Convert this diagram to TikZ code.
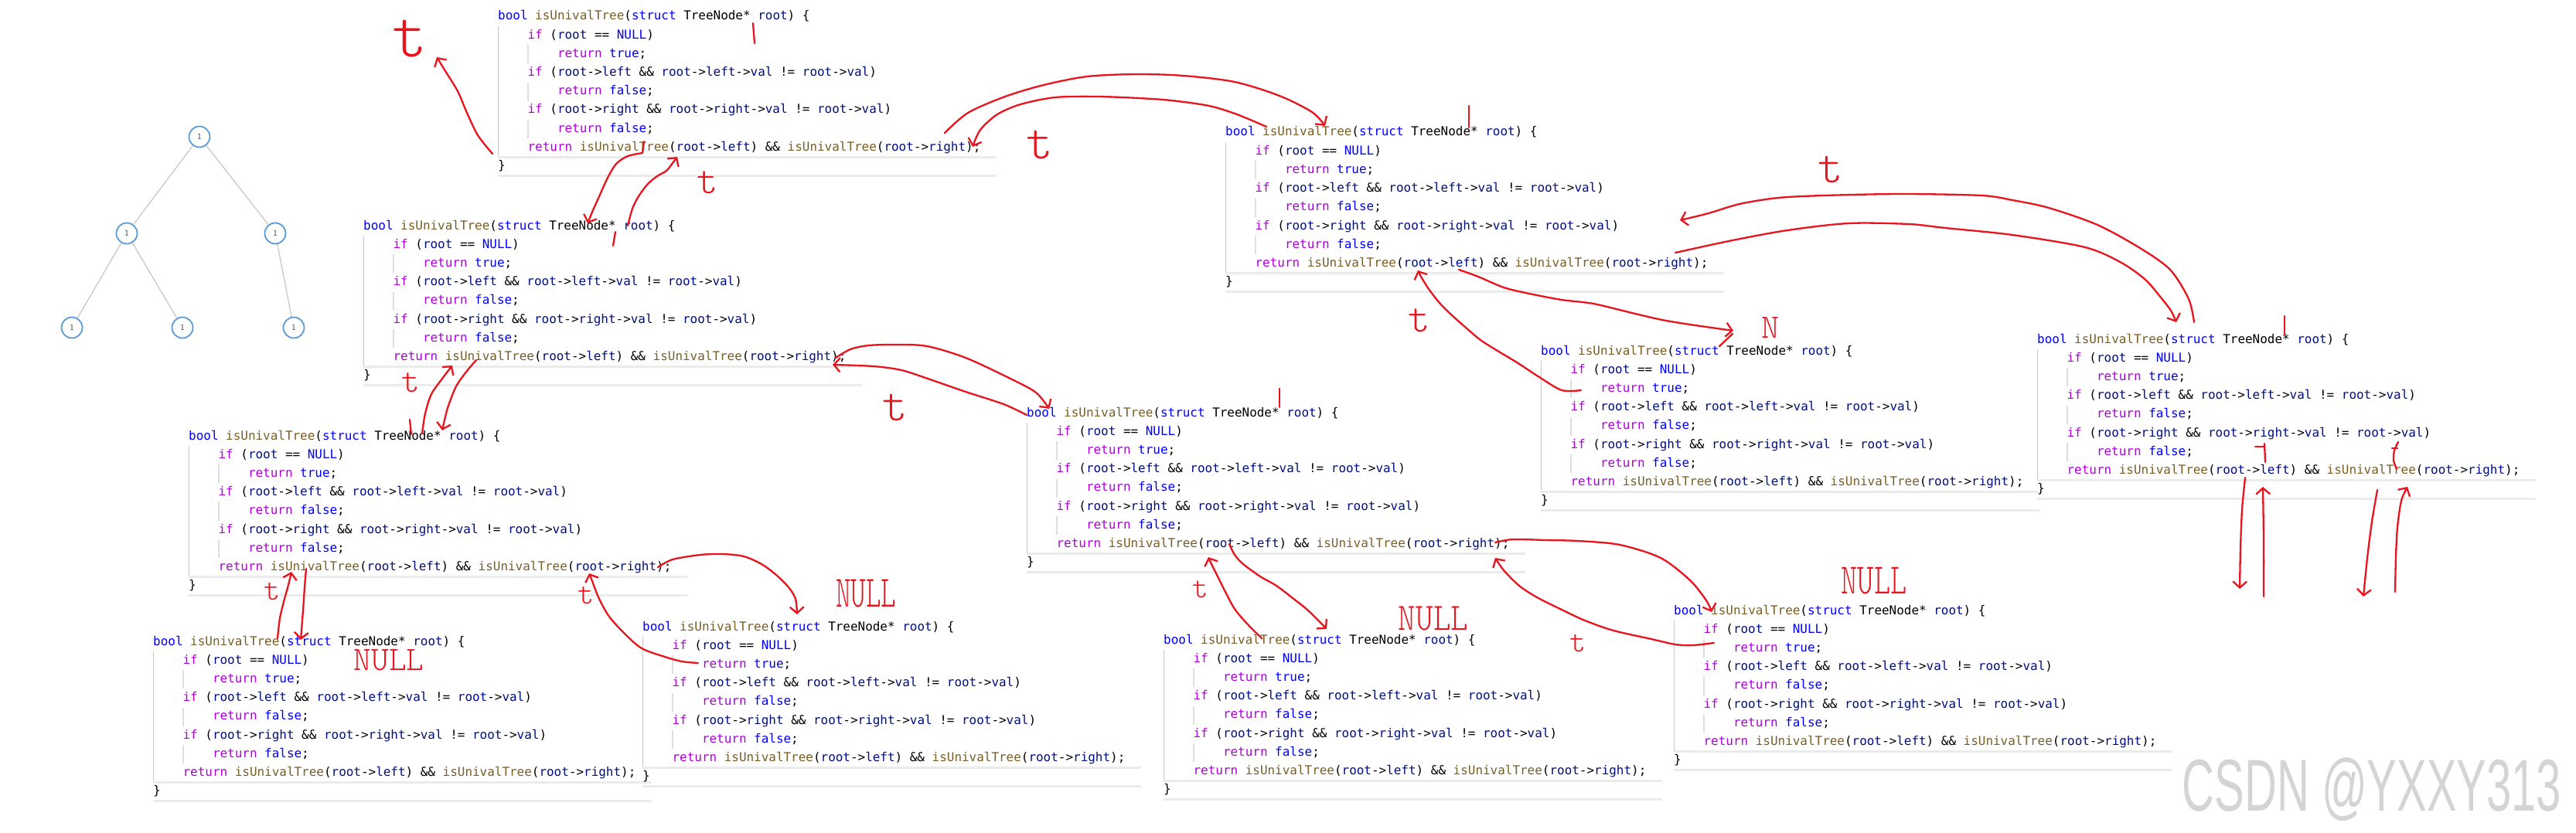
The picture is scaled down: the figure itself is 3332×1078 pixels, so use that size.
\documentclass[tikz,border=0pt]{standalone}
\usepackage{fontspec}
\usetikzlibrary{arrows.meta}
\newfontfamily\codefont{DejaVu Sans Mono}
\newfontfamily\handfont{lmmonolt10-regular.otf}
\newfontfamily\wmfont{Liberation Sans}
\definecolor{kwblue}{HTML}{0000FF}
\definecolor{ctrlpurple}{HTML}{AF00DB}
\definecolor{fnbrown}{HTML}{795E26}
\definecolor{varblue}{HTML}{001080}
\definecolor{penred}{HTML}{E8141E}
\definecolor{nodeblue}{HTML}{5B9BD5}
\newcommand{\cKw}[1]{\textcolor{kwblue}{#1}}
\newcommand{\cCt}[1]{\textcolor{ctrlpurple}{#1}}
\newcommand{\cFn}[1]{\textcolor{fnbrown}{#1}}
\newcommand{\cVr}[1]{\textcolor{varblue}{#1}}
\newcommand{\hs}[1]{\handfont\fontsize{#1}{#1}\selectfont}
\tikzset{
 codeline/.style={anchor=west, inner sep=0pt, text height=12pt, text depth=4pt, font=\codefont\fontsize{15.95}{20}\selectfont},
 guide/.style={draw=black!22, line width=1.2pt},
 subguide/.style={draw=black!13, line width=1.2pt},
 hlline/.style={draw=black!8, line width=3pt},
 pen/.style={draw=penred, line width=2.3pt, line cap=round, line join=round},
 penarrow/.style={pen, -{Straight Barb[length=8pt,width=18pt]}},
 handtxt/.style={text=penred, inner sep=0pt},
 tnode/.style={circle, draw=nodeblue, line width=1.8pt, minimum size=27pt, inner sep=0pt, font=\sffamily\fontsize{11}{11}\selectfont, text=black!75},
 tedge/.style={draw=black!20, line width=1.4pt}
}
\newcommand{\codeblock}[3]{%
\begin{scope}[shift={(#2,#3)}]
 \draw[guide] (0.5,12) -- (0.5,181.4);
 \foreach \k in {2,4,6} \draw[subguide] (38.9,{\k*24.2-12}) -- (38.9,{\k*24.2+12});
 \draw[hlline] (0,181.4) -- (645,181.4);
 \draw[hlline] (0,205.6) -- (645,205.6);
 \node[codeline] (#1-0) at (0,0) {\cKw{bool} \cFn{isUnivalTree}(\cKw{struct} TreeNode* \cVr{root}) \{};
 \node[codeline] (#1-1) at (38.4,24.2) {\cCt{if} (\cVr{root} == \cKw{NULL})};
 \node[codeline] (#1-2) at (76.8,48.4) {\cCt{return} \cKw{true};};
 \node[codeline] (#1-3) at (38.4,72.6) {\cCt{if} (\cVr{root}->\cVr{left} \&\& \cVr{root}->\cVr{left}->\cVr{val} != \cVr{root}->\cVr{val})};
 \node[codeline] (#1-4) at (76.8,96.8) {\cCt{return} \cKw{false};};
 \node[codeline] (#1-5) at (38.4,121) {\cCt{if} (\cVr{root}->\cVr{right} \&\& \cVr{root}->\cVr{right}->\cVr{val} != \cVr{root}->\cVr{val})};
 \node[codeline] (#1-6) at (76.8,145.2) {\cCt{return} \cKw{false};};
 \node[codeline] (#1-7) at (38.4,169.4) {\cCt{return} \cFn{isUnivalTree}(\cVr{root}->\cVr{left}) \&\& \cFn{isUnivalTree}(\cVr{root}->\cVr{right});};
 \node[codeline] (#1-8) at (0,193.6) {\}};
\end{scope}}
\begin{document}
\begin{tikzpicture}[x=1pt,y=-1pt]
\useasboundingbox (0,0) rectangle (3332,1078);
\fill[white] (0,0) rectangle (3332,1078);

% tree
\node[tnode] (n1) at (258,177) {1};
\node[tnode] (n2) at (164,302) {1};
\node[tnode] (n3) at (356,302) {1};
\node[tnode] (n4) at (93,424) {1};
\node[tnode] (n5) at (236,424) {1};
\node[tnode] (n6) at (380,424) {1};
\draw[tedge] (n1) -- (n2);
\draw[tedge] (n1) -- (n3);
\draw[tedge] (n2) -- (n4);
\draw[tedge] (n2) -- (n5);
\draw[tedge] (n3) -- (n6);

% code blocks
\codeblock{A}{644}{22}
\codeblock{B}{1585}{172}
\codeblock{C}{470}{293}
\codeblock{D}{1993}{455}
\codeblock{E}{2635}{440}
\codeblock{F}{244}{565}
\codeblock{G}{1328}{535}
\codeblock{H}{198}{831}
\codeblock{I}{831}{812}
\codeblock{J}{1505}{829}
\codeblock{K}{2165}{791}

% red annotations: ticks
\draw[pen] (974,30) -- (976,56);
\draw[pen] (1900,137) -- (1900,165);
\draw[pen] (796,300) -- (793,318);
\draw[pen] (530,543) -- (532,562);
\draw[pen] (1655,503) -- (1655,527);
\draw[pen] (2955,409) -- (2955,433);

% arrows
\draw[penarrow] plot[smooth] coordinates {(637,199) (618,175) (604,146) (592,118) (576,92) (565,74)};
\draw[penarrow] plot[smooth] coordinates {(1222,172) (1252,146) (1300,125) (1350,110) (1406,99) (1470,96) (1531,98) (1597,106) (1655,124) (1697,145) (1714,163)};
\draw[penarrow] plot[smooth] coordinates {(1638,164) (1600,148) (1564,137) (1515,130) (1473,127) (1420,125) (1365,126) (1320,135) (1290,148) (1268,168) (1258,190)};
\draw[pen] (833,183) -- (831,198);
\draw[penarrow] plot[smooth] coordinates {(831,198) (812,202) (797,212) (786,230) (776,252) (767,272) (760,289)};
\draw[penarrow] plot[smooth] coordinates {(812,292) (818,270) (826,254) (838,238) (850,228) (862,221) (870,211) (876,203)};
\draw[penarrow] plot[smooth] coordinates {(1081,463) (1100,452) (1124,447) (1160,446) (1199,448) (1249,463) (1307,490) (1340,508) (1357,529)};
\draw[penarrow] plot[smooth] coordinates {(1328,537) (1298,523) (1249,507) (1200,490) (1166,479) (1130,474) (1077,472)};
\draw[penarrow] plot[smooth] coordinates {(616,466) (604,480) (590,500) (579,528) (572,557)};
\draw[penarrow] plot[smooth] coordinates {(546,561) (550,535) (558,510) (572,490) (585,473)};
\draw[penarrow] plot[smooth] coordinates {(396,736) (394,760) (392,790) (389,828)};
\draw[penarrow] plot[smooth] coordinates {(359,826) (362,800) (368,775) (373,757) (377,740)};
\draw[penarrow] plot[smooth] coordinates {(851,734) (870,724) (906,718) (935,717) (962,720) (985,730) (1004,744) (1020,760) (1029,775) (1031,795)};
\draw[penarrow] plot[smooth] coordinates {(903,858) (882,856) (860,850) (830,839) (808,820) (788,798) (775,775) (766,752) (762,742)};
\draw[penarrow] plot[smooth] coordinates {(1590,704) (1597,718) (1608,730) (1630,746) (1651,758) (1672,774) (1692,790) (1716,814)};
\draw[penarrow] plot[smooth] coordinates {(1632,826) (1612,806) (1597,788) (1586,768) (1576,748) (1567,730) (1563,721)};
\draw[penarrow] plot[smooth] coordinates {(1934,702) (1957,698) (2000,699) (2041,700) (2095,705) (2148,722) (2186,751) (2207,777) (2214,792)};
\draw[penarrow] plot[smooth] coordinates {(2217,832) (2190,835) (2167,834) (2136,827) (2087,816) (2050,803) (2018,788) (1988,773) (1965,758) (1945,738) (1934,722)};
\draw[penarrow] plot[smooth] coordinates {(1887,349) (1912,358) (1945,372) (1978,380) (2020,388) (2061,393) (2111,405) (2150,414) (2186,420) (2242,428)};
\draw[pen] (2241,432) -- (2224,448);
\draw[penarrow] plot[smooth] coordinates {(2045,505) (2020,505) (1991,488) (1962,469) (1937,454) (1915,440) (1896,424) (1878,408) (1862,392) (1848,374) (1838,358) (1834,350)};
\draw[penarrow] plot[smooth] coordinates {(2838,417) (2831,387) (2807,349) (2768,321) (2713,291) (2650,269) (2603,259) (2563,253) (2460,251) (2359,253) (2300,256) (2250,264) (2210,276) (2173,285)};
\draw[penarrow] plot[smooth] coordinates {(2167,327) (2241,311) (2312,298) (2391,289) (2469,290) (2516,295) (2603,304) (2697,320) (2744,340) (2775,362) (2795,385) (2808,402) (2815,417)};
\draw[penarrow] plot[smooth] coordinates {(2904,618) (2900,660) (2898,710) (2897,762)};
\draw[penarrow] plot[smooth] coordinates {(2928,772) (2928,700) (2927,630)};
\draw[penarrow] plot[smooth] coordinates {(3075,634) (3068,675) (3062,722) (3057,772)};
\draw[penarrow] plot[smooth] coordinates {(3098,766) (3099,720) (3101,682) (3106,648) (3114,630)};
\draw[pen] (2917,578) -- (2929,578);
\draw[pen] (2929,574) -- (2930,598);
\draw[pen] (3094,580) -- (3101,580);
\draw[pen] plot[smooth] coordinates {(3102,572) (3097,583) (3096,596) (3100,607)};

% red handwritten letters
\node[handtxt, font=\hs{86}] (t1) at (530,50) {t};
\node[handtxt, font=\hs{66}] (t2) at (1345,187) {t};
\node[handtxt, font=\hs{52}] (t3) at (915,236) {t};
\node[handtxt, font=\hs{45}] (t4) at (531,495) {t};
\node[handtxt, font=\hs{62}] (t5) at (1158,528) {t};
\node[handtxt, font=\hs{40}] (t6) at (352,766) {t};
\node[handtxt, font=\hs{40}] (t7) at (758,771) {t};
\node[handtxt, font=\hs{54}] (t8) at (1836,415) {t};
\node[handtxt, font=\hs{62}] (t9) at (2368,220) {t};
\node[handtxt, font=\hs{39}] (t10) at (1553,763) {t};
\node[handtxt, font=\hs{40}] (t11) at (2041,833) {t};
\node[handtxt, font=\hs{44}] (nn) at (2290,424) {N};
\node[handtxt, font=\hs{44}, xscale=0.98] (null1) at (503,854) {NULL};
\node[handtxt, font=\hs{58}, xscale=0.64] (null2) at (1120,768) {NULL};
\node[handtxt, font=\hs{50}, xscale=0.86] (null3) at (1854,800) {NULL};
\node[handtxt, font=\hs{56}, xscale=0.72] (null4) at (2424,752) {NULL};

% watermark
\node[font=\wmfont\fontsize{95}{95}\selectfont, text=black!17, xscale=0.61, inner sep=0pt] (wm) at (3068,1022) {CSDN @YXXY313};
\end{tikzpicture}
\end{document}
